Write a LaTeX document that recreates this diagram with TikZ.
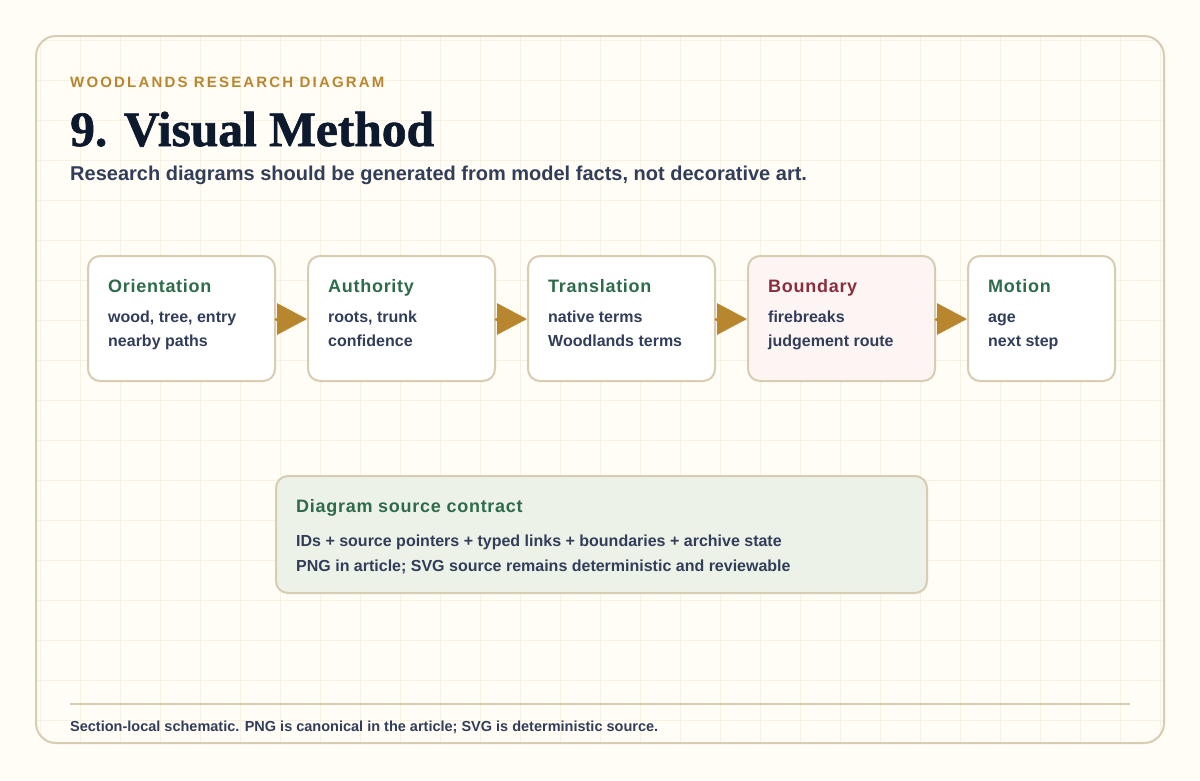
\documentclass[tikz,border=0pt]{standalone}
\usepackage{fontspec}
\setmainfont{Liberation Sans}
\newfontfamily\titlefont{Liberation Serif}[BoldFeatures={FakeBold=1.3}]
\usetikzlibrary{arrows.meta}
\definecolor{bg}{HTML}{FFFDF5}
\definecolor{gridc}{HTML}{F6F1E3}
\definecolor{cardline}{HTML}{D8CCB2}
\definecolor{gold}{HTML}{B8862E}
\definecolor{navy}{HTML}{0D1A2E}
\definecolor{slate}{HTML}{313D59}
\definecolor{green}{HTML}{2E6B4A}
\definecolor{wine}{HTML}{8B2E3C}
\definecolor{pinkfill}{HTML}{FDF5F3}
\definecolor{greenfill}{HTML}{EDF2E8}
\tikzset{
  stepbox/.style={draw=cardline, line width=2, rounded corners=12, fill=white,
    minimum width=187, minimum height=125, anchor=north west, inner sep=0},
  boxtitle/.style={anchor=base west, inner sep=0, font=\fontsize{18}{21}\selectfont\bfseries\addfontfeatures{LetterSpace=4}, text=green},
  boxline/.style={anchor=base west, inner sep=0, font=\fontsize{16}{19}\selectfont\bfseries, text=slate},
  flow/.style={draw=gold, line width=3, line cap=round, -{Triangle[length=30,width=31]}},
}
\begin{document}
\begin{tikzpicture}[x=1pt,y=-1pt]
\useasboundingbox (0,0) rectangle (1200,780);
\fill[bg] (0,0) rectangle (1200,780);
\begin{scope}
  \clip[rounded corners=20] (36,36) rectangle (1164,743);
  \fill[bg] (36,36) rectangle (1164,743);
  \foreach \gx in {40,80,...,1160} \draw[gridc, line width=0.8] (\gx,36) -- (\gx,743);
  \foreach \gy in {40,80,...,740} \draw[gridc, line width=0.8] (36,\gy) -- (1164,\gy);
\end{scope}
\draw[cardline, line width=2, rounded corners=20] (36,36) rectangle (1164,743);

\node[anchor=base west, inner sep=0, text=gold, font=\fontsize{15}{18}\selectfont\bfseries\addfontfeatures{LetterSpace=14.5}] (kicker) at (70,87) {WOODLANDS RESEARCH DIAGRAM};
\node[anchor=base west, inner sep=0, text=navy, font=\titlefont\fontsize{49.5}{56}\selectfont\bfseries] (title) at (70,146) {9. Visual Method};
\node[anchor=base west, inner sep=0, text=slate, font=\fontsize{20}{24}\selectfont\bfseries] (sub) at (70,180.5) {Research diagrams should be generated from model facts, not decorative art.};

\node[stepbox] (o) at (87,255) {};
\node[stepbox] (a) at (307,255) {};
\node[stepbox] (t) at (527,255) {};
\node[stepbox, fill=pinkfill] (b) at (747,255) {};
\node[stepbox, minimum width=147] (m) at (967,255) {};

\node[boxtitle] (ot) at ([shift={(21,37.5)}]o.north west) {Orientation};
\node[boxline] (o1) at ([shift={(21,67.5)}]o.north west) {wood, tree, entry};
\node[boxline] (o2) at ([shift={(21,91)}]o.north west) {nearby paths};
\node[boxtitle] (at) at ([shift={(21,37.5)}]a.north west) {Authority};
\node[boxline] (a1) at ([shift={(21,67.5)}]a.north west) {roots, trunk};
\node[boxline] (a2) at ([shift={(21,91)}]a.north west) {confidence};
\node[boxtitle] (tt) at ([shift={(21,37.5)}]t.north west) {Translation};
\node[boxline] (t1) at ([shift={(21,67.5)}]t.north west) {native terms};
\node[boxline] (t2) at ([shift={(21,91)}]t.north west) {Woodlands terms};
\node[boxtitle, text=wine] (bt) at ([shift={(21,37.5)}]b.north west) {Boundary};
\node[boxline] (b1) at ([shift={(21,67.5)}]b.north west) {firebreaks};
\node[boxline] (b2) at ([shift={(21,91)}]b.north west) {judgement route};
\node[boxtitle] (mt) at ([shift={(21,37.5)}]m.north west) {Motion};
\node[boxline] (m1) at ([shift={(21,67.5)}]m.north west) {age};
\node[boxline] (m2) at ([shift={(21,91)}]m.north west) {next step};

\draw[flow] ([yshift=-0.5]o.east) -- ([yshift=-0.5]a.west);
\draw[flow] ([yshift=-0.5]a.east) -- ([yshift=-0.5]t.west);
\draw[flow] ([yshift=-0.5]t.east) -- ([yshift=-0.5]b.west);
\draw[flow] ([yshift=-0.5]b.east) -- ([yshift=-0.5]m.west);

\node[stepbox, fill=greenfill, minimum width=651, minimum height=117] (c) at (275,475) {};
\node[boxtitle] (ct) at ([shift={(21,37)}]c.north west) {Diagram source contract};
\node[boxline] (c1) at ([shift={(21,71)}]c.north west) {IDs + source pointers + typed links + boundaries + archive state};
\node[boxline] (c2) at ([shift={(21,96)}]c.north west) {PNG in article; SVG source remains deterministic and reviewable};

\coordinate (r1) at (70,704);
\coordinate (r2) at (1130,704);
\draw[cardline, line width=2] (r1) -- (r2);
\node[anchor=base west, inner sep=0, text=slate, font=\fontsize{14.5}{17}\selectfont\bfseries] (foot) at (70,731.5) {Section-local schematic. PNG is canonical in the article; SVG is deterministic source.};
\end{tikzpicture}
\end{document}
